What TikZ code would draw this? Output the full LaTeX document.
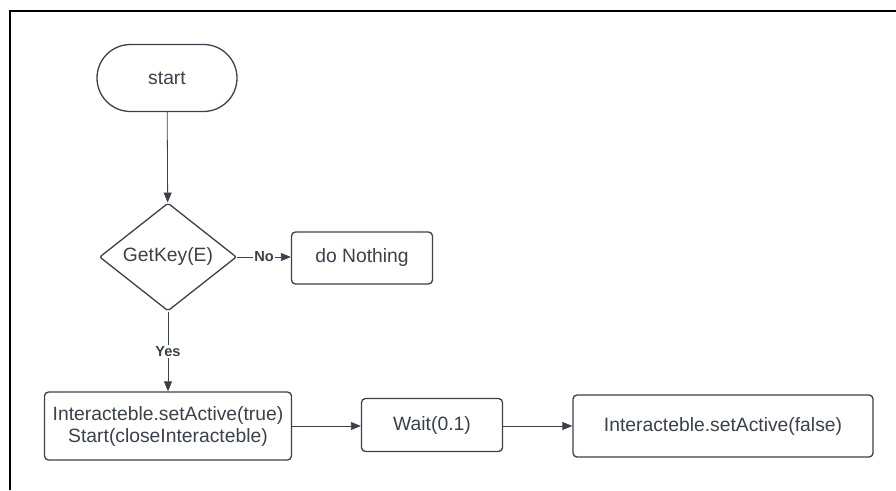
\documentclass[tikz,border=0pt]{standalone}
\usepackage{fontspec}
\setmainfont{Liberation Sans}
\usetikzlibrary{arrows.meta,shapes.geometric,shapes.misc}
\definecolor{ink}{HTML}{3A414A}
\begin{document}
\begin{tikzpicture}[x=1pt,y=-1pt,
  every node/.style={text=ink,font=\fontsize{19.3}{22}\selectfont,align=center},
  outline/.style={draw=ink,line width=1.3pt,fill=white,inner sep=0pt},
  box/.style={outline,rectangle,rounded corners=4pt},
  terminal/.style={outline,rounded rectangle},
  decision/.style={outline,diamond,rounded corners=2pt},
  flow/.style={draw=ink,line width=0.8pt,-{Triangle[length=10pt,width=8pt]}},
  tag/.style={fill=white,inner sep=1pt,font=\bfseries\fontsize{14.6}{16}\selectfont}]
\useasboundingbox (0,0) rectangle (896,490);
% outer frame
\draw[line width=2pt,black] (10,490) -- (10,11) -- (897,11);

\node[terminal,minimum width=140pt,minimum height=67pt] (start) at (167,78) {start};
\node[decision,minimum width=137pt,minimum height=103pt] (key) at (168,257) {GetKey(E)};
\node[box,minimum width=141pt,minimum height=52pt] (nothing) at (362,258) {do Nothing};
\node[box,minimum width=247pt,minimum height=68pt] (act) at (168,426)
  {Interacteble.setActive(true)\\Start(closeInteracteble)};
\node[box,minimum width=141pt,minimum height=53pt] (wait) at (432,425) {Wait(0.1)};
\node[box,minimum width=300pt,minimum height=62pt] (deact) at (723,426)
  {Interacteble.setActive(false)};

\draw[flow] (start) -- (key);
\draw[flow] (key.east) -- node[tag] {No} (nothing.west |- key.east);
\draw[flow] (key.south) -- node[tag,pos=0.5] {Yes} (act.north);
\draw[flow] (act.east) -- (wait.west |- act.east);
\draw[flow] (wait.east |- act.east) -- (deact.west |- act.east);
\end{tikzpicture}
\end{document}
